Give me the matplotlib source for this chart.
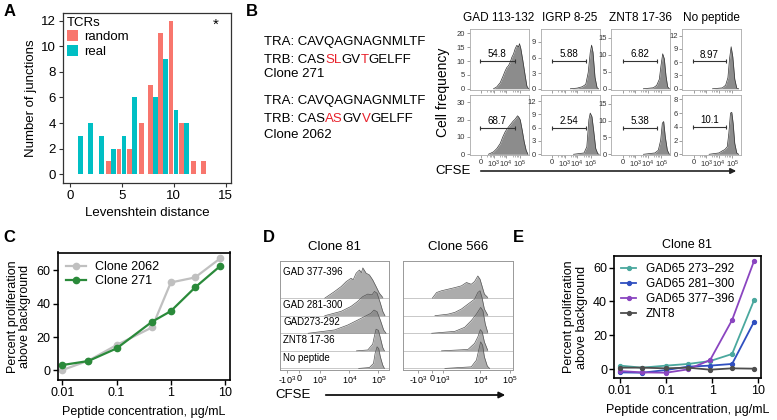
import matplotlib.pyplot as plt
import numpy as np
from matplotlib.ticker import FixedLocator

plt.rcParams['font.family'] = ['Liberation Sans', 'DejaVu Sans']
plt.rcParams['mathtext.fontset'] = 'custom'
plt.rcParams['mathtext.rm'] = 'Liberation Sans'
plt.rcParams['mathtext.it'] = 'Liberation Sans:italic'
plt.rcParams['mathtext.bf'] = 'Liberation Sans:bold'

# ---------------- data ----------------
# A: Levenshtein distance histogram
lev_dist = list(range(1, 14))
random_n = [0, 0, 0, 1, 2, 2, 4, 7, 11, 12, 4, 1, 1]
real_n = [3, 4, 3, 2, 3, 6, 0, 6, 9, 5, 4, 0, 0]

# B: TCR sequences and CFSE histograms (x in % of axis width, y = cell frequency)
seq_blocks = [
    [[('TRA: CAVQAGNAGNMLTF', 'k')],
     [('TRB: CAS', 'k'), ('SL', 'r'), ('GV', 'k'), ('T', 'r'), ('GELFF', 'k')],
     [('Clone 271', 'k')]],
    [[('TRA: CAVQAGNAGNMLTF', 'k')],
     [('TRB: CAS', 'k'), ('AS', 'r'), ('GV', 'k'), ('V', 'r'), ('GELFF', 'k')],
     [('Clone 2062', 'k')]],
]
b_titles = ['GAD 113-132', 'IGRP 8-25', 'ZNT8 17-36', 'No peptide']
b_xticks = [19.5, 41.5, 62, 85.5]
b_xlabels = ['0', r'$10^3$', r'$10^4$', r'$10^5$']
b_hist_x = [
    [[40.7, 46.3, 52, 56.5, 60.5, 63.3, 66, 69, 71.8, 74.6, 77.4, 80.2, 83, 84.7, 87, 90.4, 94.4, 97.2, 100],
     [50.6, 62.2, 70.9, 76.7, 80.8, 84.3, 86.6, 89, 92.4, 95.9, 98.3],
     [54.8, 71.8, 77.4, 81.9, 84.7, 87.6, 90.4, 93.2, 96, 98.9],
     [51.7, 68.3, 73.9, 77.8, 80.6, 83.3, 86.1, 89.4, 92.8, 96]],
    [[32, 40.7, 46.3, 52, 56.5, 60.5, 64.4, 69, 73.4, 77.4, 81.4, 83.6, 86, 89.3, 92.7, 96, 99],
     [56, 73.8, 78.5, 82, 84.3, 87.2, 90, 93.6, 97, 99.4],
     [55, 74.6, 80.2, 84.2, 87, 89.3, 92, 95.5, 98.9],
     [46, 62.8, 68.3, 72.8, 76.7, 79.4, 82.2, 84.4, 86.7, 89.4, 92.8, 96]],
]
b_hist_y = [
    [[0, 0.7, 2.2, 4.4, 6.5, 7.7, 8.3, 9.6, 11.4, 12.6, 14.5, 15.7, 15.1, 16.3, 14.5, 10.2, 4.7, 1.0, 0],
     [0, 0.13, 0.4, 0.85, 3.1, 7.0, 8.4, 7.0, 2.2, 0.2, 0],
     [0, 0.3, 1.0, 2.8, 6.8, 10.3, 8.8, 3.8, 0.6, 0],
     [0, 0.2, 0.8, 2.5, 6.8, 9.5, 7.2, 2.2, 0.15, 0]],
    [[0, 1.4, 3.3, 6.2, 10.1, 13, 15, 17, 18.9, 20.3, 22.2, 21.4, 19.9, 14, 7.2, 2.3, 0],
     [0, 0.3, 1.7, 7.8, 9.3, 8.5, 5.5, 1.3, 0.15, 0],
     [0, 0.4, 1.2, 4.2, 9.2, 9.7, 5.2, 1.2, 0],
     [0, 0.2, 0.5, 0.7, 1.1, 3.1, 6.0, 6.1, 4.5, 1.6, 0.2, 0]],
]
b_ytop = [[21.6, 11.5, 17.6, 13.5], [34.5, 13.5, 17.7, 8.7]]
b_yticks = [[[0, 5, 10, 15, 20], [0, 3, 6, 9], [0, 5, 10, 15], [0, 3, 6, 9, 12]],
            [[0, 10, 20, 30], [0, 3, 6, 9, 12], [0, 5, 10, 15], [0, 2, 4, 6, 8]]]
b_gates = [[(18, 76.3, 10, '54.8'), (19.8, 77.9, 5.3, '5.88'), (20.9, 78.5, 8.1, '6.82'), (18.3, 73.9, 6.2, '8.97')],
           [(18, 76.3, 15.4, '68.7'), (19.8, 77.9, 5.9, '2.54'), (20.9, 78.5, 7.9, '5.38'), (18.3, 73.9, 4.0, '10.1')]]

# C: dose response
c_conc = [0.01, 0.03, 0.1, 0.45, 1.0, 2.8, 8.1]
clone2062 = [0.2, 5.8, 15.2, 25.8, 52.8, 55.8, 67.2]
clone271 = [3.2, 5.6, 13.2, 29.2, 35.6, 49.8, 62.6]

# D: offset CFSE histograms (x in % of axis width, y in row heights)
d_rows = ['GAD 377-396', 'GAD 281-300', 'GAD273-292', 'ZNT8 17-36', 'No peptide']
d_clones = ['Clone 81', 'Clone 566']
d_xticks = [[6.1, 17.6, 36.6, 63.4, 89.9], [13.7, 26.0, 36.1, 70.4, 97]]
d_xlabels = [r'-$10^3$', '0', r'$10^3$', r'$10^4$', r'$10^5$']
d_hist_x = [
    [[41, 50, 56, 60.6, 65, 67, 69.7, 72.7, 74.5, 75.8, 78.8, 81.8, 84.8, 87.9, 90.9, 94],
     [41, 56, 65, 71, 75.8, 80.3, 84.2, 86.4, 88.8, 91.8, 94, 96],
     [25.8, 50, 62, 71, 77, 83, 86, 88.8, 91.8, 94.8, 97],
     [70, 80.3, 84.8, 86.4, 87.9, 90, 91.8, 94, 95.5],
     [72, 81.8, 85.5, 87, 88.8, 90.3, 91.8, 94, 95.5]],
    [[26.4, 30.3, 34.8, 40.9, 47, 53, 57.6, 62, 65, 68, 70, 71.8, 74, 77],
     [28.8, 40.9, 47, 53, 59, 65, 68, 70, 71.8, 74, 77],
     [25.8, 47, 56, 62, 66.7, 70.6, 72.7, 74.8, 77],
     [34.8, 59, 65, 68, 70.3, 72, 74, 77],
     [37.9, 62, 66.7, 68.8, 70.6, 72.4, 74, 76.7, 78.8]],
]
d_hist_y = [
    [[0, 0.38, 0.66, 0.94, 1.13, 1.05, 1.42, 1.6, 1.45, 1.72, 1.42, 1.32, 1.04, 0.66, 0.28, 0.04],
     [0, 0.25, 0.53, 0.81, 1.09, 1.23, 1.19, 1.38, 1.28, 0.72, 0.25, 0],
     [0, 0.19, 0.47, 0.75, 0.94, 1.13, 1.32, 1.23, 0.75, 0.19, 0],
     [0, 0.05, 0.38, 0.85, 1.23, 1.17, 0.75, 0.19, 0],
     [0, 0.05, 0.28, 0.85, 1.23, 1.13, 0.66, 0.19, 0]],
    [[0, 0.32, 0.42, 0.51, 0.6, 0.7, 0.89, 0.79, 0.94, 1.26, 1.08, 0.7, 0.23, 0.04],
     [0, 0.09, 0.19, 0.38, 0.66, 0.94, 1.32, 1.42, 1.04, 0.38, 0.04],
     [0, 0.11, 0.34, 0.72, 1.09, 1.47, 1.28, 0.53, 0.06],
     [0, 0.08, 0.42, 0.79, 1.21, 1.08, 0.51, 0.04],
     [0, 0.09, 0.47, 1.04, 1.51, 1.32, 0.66, 0.13, 0]],
]

# E: clone 81 dose response
e_conc = [0.01, 0.03, 0.1, 0.3, 0.9, 2.7, 8.1]
e_names = ['GAD65 273\u2212292', 'GAD65 281\u2212300', 'GAD65 377\u2212396', 'ZNT8']
e_vals = [
    [2.0, 0.8, 2.0, 3.0, 4.7, 8.9, 40.8],
    [-2.0, -2.2, -0.6, 1.4, 2.0, 3.0, 28.0],
    [-1.2, -2.0, -2.2, -0.2, 5.3, 29.0, 64.0],
    [0.8, 0.8, 0.4, 0.8, -0.4, 0.4, 0.2],
]
e_colors = ['#4aa89e', '#2f4fc0', '#8a45c0', '#4d4d4d']

# ---------------- figure ----------------
W, H = 777, 420
fig = plt.figure(figsize=(W / 100, H / 100), dpi=100)


def px_axes(l, t, r, b):
    return fig.add_axes([l / W, 1 - b / H, (r - l) / W, (b - t) / H])


# overlay for free text and arrows, pixel coordinates
ov = fig.add_axes([0, 0, 1, 1], zorder=10)
ov.set_xlim(0, W)
ov.set_ylim(H, 0)
ov.axis('off')

for lab, (x, y) in zip('ABCDE', [(4, 12), (246, 12), (3, 238), (263, 238), (513, 238)]):
    ov.text(x, y, lab, fontsize=12, fontweight='bold', va='center')

# ---- A ----
axA = px_axes(63, 13, 231, 183)
rnd_pos, real_pos = [], []
for d, r, q in zip(lev_dist, random_n, real_n):
    if r and q:
        rnd_pos.append(d - 0.27)
        real_pos.append(d + 0.2)
    else:
        rnd_pos.append(d - 0.12)
        real_pos.append(d)
rnd_h = np.array(random_n, dtype=float)
real_h = np.array(real_n, dtype=float)
axA.bar(np.array(rnd_pos)[rnd_h > 0], rnd_h[rnd_h > 0], width=0.46, color='#F8766D', label='random')
axA.bar(np.array(real_pos)[real_h > 0], real_h[real_h > 0], width=0.46, color='#00BFC4', label='real')
axA.set_xlim(-0.67, 15.5)
axA.set_ylim(-0.68, 12.6)
axA.set_xticks([0, 5, 10, 15])
axA.set_yticks(range(0, 13, 2))
axA.tick_params(labelsize=9.5, length=3, width=0.8, color='#333333', pad=2)
for s in axA.spines.values():
    s.set_linewidth(0.9)
    s.set_color('#333333')
axA.set_xlabel('Levenshtein distance', fontsize=9.5, labelpad=4)
axA.set_ylabel('Number of junctions', fontsize=9.5, labelpad=3)
axA.text(14.07, 11.7, '*', fontsize=11, ha='center', va='center')
axA.legend(title='TCRs', loc='upper left', frameon=False, fontsize=9.5, title_fontsize=9.5,
           handlelength=0.8, handleheight=0.9, handletextpad=0.5, labelspacing=0.1,
           borderaxespad=0.1, borderpad=0.2, alignment='left')


# ---- B text ----
def color_seq(x, y, parts, size):
    cmap = {'k': 'black', 'r': '#e8202a'}
    t = ov.text(x, y, parts[0][0], color=cmap[parts[0][1]], fontsize=size, va='bottom')
    for s, c in parts[1:]:
        t = ov.annotate(s, xy=(1, 0), xycoords=t, color=cmap[c], fontsize=size, va='bottom')


line_y = [[40.7, 58.3, 73.0], [100.0, 117.3, 133.5]]
for block, ys in zip(seq_blocks, line_y):
    for parts, y in zip(block, ys):
        color_seq(264, y + 7.3, parts, 9.5)

# ---- B histograms ----
b_left = [469.5, 540.5, 611, 682]
b_rows = [(29, 89.5), (94.5, 155)]
for r in range(2):
    for c in range(4):
        ax = px_axes(b_left[c], b_rows[r][0], b_left[c] + 59, b_rows[r][1])
        ax.fill_between(b_hist_x[r][c], b_hist_y[r][c], color='#8c8c8c', lw=0)
        ax.plot(b_hist_x[r][c], b_hist_y[r][c], color='#333333', lw=0.5)
        lo, hi, gy, gl = b_gates[r][c]
        ax.plot([lo, hi], [gy, gy], color='#333333', lw=0.8, marker='|', ms=3.5, mew=0.8)
        ax.text((lo + hi) / 2, gy + b_ytop[r][c] * 0.03, gl, fontsize=7, ha='center', va='bottom')
        ax.set_xlim(0, 100)
        ax.set_ylim(-b_ytop[r][c] * 0.012, b_ytop[r][c])
        ax.set_yticks(b_yticks[r][c])
        ax.set_xticks(b_xticks)
        ax.xaxis.set_minor_locator(FixedLocator([30, 34, 37, 39, 51, 55, 58, 60, 73, 77, 80, 82]))
        if r == 1:
            ax.set_xticklabels(b_xlabels)
        else:
            ax.set_xticklabels([])
        ax.tick_params(labelsize=5.5, length=2, width=0.5, color='#777777', labelcolor='#333333', pad=1)
        ax.tick_params(which='minor', length=1.2, width=0.4, color='#777777')
        for s in ax.spines.values():
            s.set_linewidth(0.6)
            s.set_color('#aaaaaa')
        if r == 0:
            ax.set_title(b_titles[c], fontsize=8.5, pad=6)

ov.text(443, 92, 'Cell frequency', fontsize=10, rotation=90, ha='center', va='center')
ov.text(435, 171, 'CFSE', fontsize=9.5, va='center')
ov.annotate('', xy=(739, 171), xytext=(478, 171),
            arrowprops=dict(arrowstyle='-|>', color='#222222', lw=1.2, mutation_scale=8))

# ---- C ----
axC = px_axes(57.5, 252.5, 230, 380)
axC.plot(c_conc, clone2062, color='#c0c0c0', marker='o', ms=4.5, lw=1.6, label='Clone 2062')
axC.plot(c_conc, clone271, color='#2a8a3a', marker='o', ms=4.5, lw=1.6, label='Clone 271')
axC.set_xscale('log')
axC.set_xlim(10 ** -2.092, 10 ** 1.092)
axC.set_ylim(-5.8, 70.8)
axC.set_xticks([0.01, 0.1, 1, 10])
axC.set_xticklabels(['0.01', '0.1', '1', '10'])
axC.minorticks_off()
axC.set_yticks([0, 20, 40, 60])
axC.tick_params(labelsize=9, length=3.5, width=1, pad=1.5)
for s in axC.spines.values():
    s.set_linewidth(1.2)
axC.set_xlabel('Peptide concentration, \u00b5g/mL', fontsize=9, labelpad=5)
axC.set_ylabel('Percent proliferation\nabove background', fontsize=9, labelpad=4, linespacing=1.05)
axC.legend(loc='upper left', frameon=False, fontsize=9, handlelength=1.6, handletextpad=0.7,
           labelspacing=0.15, borderaxespad=0.3)

# ---- D ----
d_lefts = [280, 403.5]
for k in range(2):
    ax = px_axes(d_lefts[k], 260.7, d_lefts[k] + 109.3, 370)
    n = len(d_rows)
    for i in range(n):
        base = n - 1 - i
        ax.axhline(base, color='#c8c8c8', lw=0.7, zorder=1)
    for i in range(n):
        base = n - 1 - i
        ys = base + np.array(d_hist_y[k][i])
        ax.fill_between(d_hist_x[k][i], base, ys, color='#7a7a7a', alpha=0.62, lw=0, zorder=2 + i)
        ax.plot(d_hist_x[k][i], ys, color='#555555', lw=0.5, zorder=2 + i)
        if k == 0:
            off = 1.5 if i == 0 else 0.62
            ax.text(3, base + off, d_rows[i], fontsize=7, va='center', zorder=20)
    ax.set_xlim(0, 100)
    ax.set_ylim(-0.09, 6.13)
    ax.set_yticks([])
    ax.set_xticks(d_xticks[k])
    ax.set_xticklabels(d_xlabels)
    ax.tick_params(labelsize=6.5, length=2, width=0.5, color='#777777', pad=1)
    for s in ax.spines.values():
        s.set_linewidth(0.7)
        s.set_color('#999999')
    ax.set_title(d_clones[k], fontsize=9.5, pad=8)

ov.text(275, 395, 'CFSE', fontsize=9.5, va='center')
ov.annotate('', xy=(508, 395), xytext=(323, 395),
            arrowprops=dict(arrowstyle='-|>', color='#111111', lw=1.3, mutation_scale=9))

# ---- E ----
axE = px_axes(614, 256, 760.7, 378.3)
for name, vals, col in zip(e_names, e_vals, e_colors):
    axE.plot(e_conc, vals, color=col, marker='o', ms=2.8, lw=1.3, label=name)
axE.set_xscale('log')
axE.set_xlim(10 ** -2.13, 10 ** 1.052)
axE.set_ylim(-5.5, 66.9)
axE.set_xticks([0.01, 0.1, 1, 10])
axE.set_xticklabels(['0.01', '0.1', '1', '10'])
axE.minorticks_off()
axE.set_yticks([0, 20, 40, 60])
axE.tick_params(labelsize=9, length=3.5, width=1, pad=1.5)
for s in axE.spines.values():
    s.set_linewidth(1.2)
axE.set_title('Clone 81', fontsize=9, pad=6)
axE.set_xlabel('Peptide concentration, \u00b5g/mL', fontsize=9, labelpad=5)
axE.set_ylabel('Percent proliferation\nabove background', fontsize=9, labelpad=4, linespacing=1.05)
axE.legend(loc='upper left', frameon=False, fontsize=8.5, handlelength=1.3, handletextpad=0.8,
           labelspacing=0.25, borderaxespad=0.2)

fig.savefig('out.png', dpi=100)
